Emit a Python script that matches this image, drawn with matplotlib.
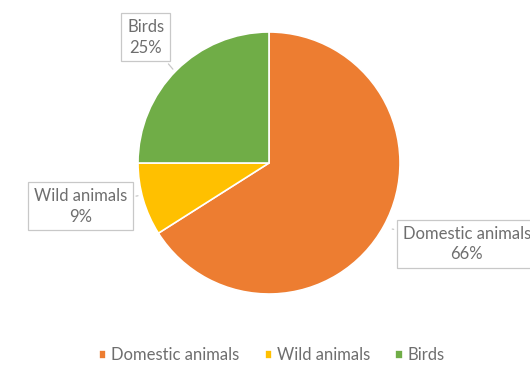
import matplotlib.pyplot as plt

labels = ["Domestic animals", "Wild animals", "Birds"]
values = [66, 9, 25]
colors = ["#ED7D31", "#FFC000", "#70AD47"]

plt.rcParams['font.family'] = ['Lato', 'DejaVu Sans']

fig = plt.figure(figsize=(5.30, 3.66), dpi=100)
ax = fig.add_axes([138 / 530, 72 / 366, 262 / 530, 262 / 366])

wedges, _ = ax.pie(values, colors=colors, startangle=90, counterclock=False,
                   radius=1, wedgeprops=dict(edgecolor="white", linewidth=1.2))
ax.set_xlim(-1, 1)
ax.set_ylim(-1, 1)
ax.set_aspect("equal")

# callout label positions (data coords) and where their tail touches the pie
label_pos = [(1.51, -0.62), (-1.44, -0.33), (-0.94, 0.96)]
tail_pos = [(0.92, -0.5), (-1.0, -0.25), (-0.72, 0.7)]

for lab, v, pos, tail in zip(labels, values, label_pos, tail_pos):
    ax.annotate(f"{lab}\n{v}%", xy=tail, xytext=pos, ha="center", va="center",
                fontsize=12, color="#6E6E6E", linespacing=1.35,
                bbox=dict(boxstyle="square,pad=0.35", fc="white", ec="#C8C8C8", lw=0.9),
                arrowprops=dict(arrowstyle="-", color="#C8C8C8", lw=0.9),
                annotation_clip=False, zorder=5)

leg = fig.legend(wedges, labels, loc="center", bbox_to_anchor=(272 / 530, 1 - 355 / 366),
                 ncol=3, frameon=False, fontsize=12, handlelength=0.45, handleheight=0.45,
                 handletextpad=0.3, columnspacing=1.5)
for t in leg.get_texts():
    t.set_color("#6E6E6E")

fig.savefig("out.png", dpi=100)
